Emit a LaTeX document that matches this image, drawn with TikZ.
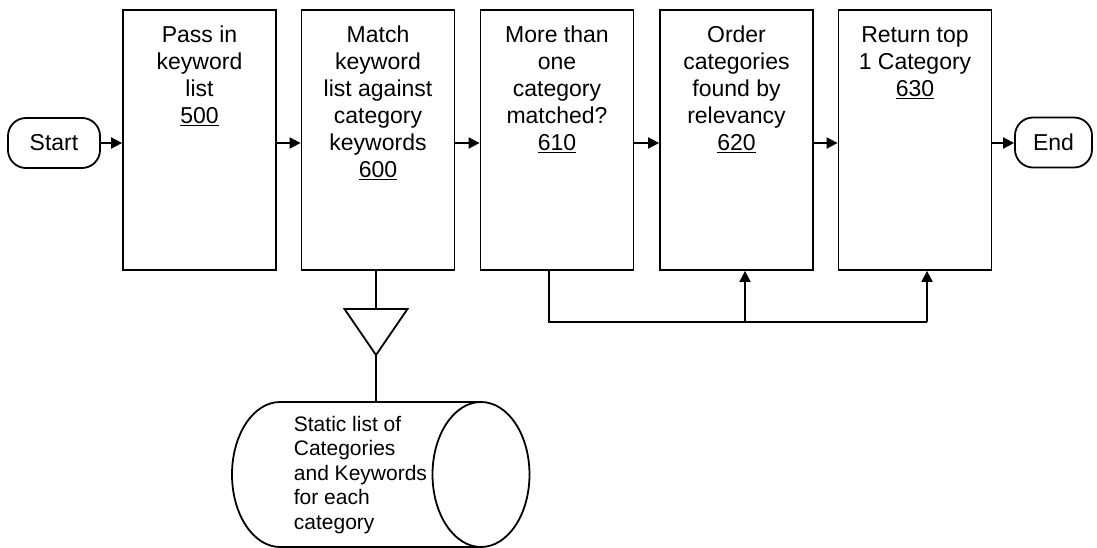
\documentclass[tikz,border=0pt]{standalone}
\usepackage{fontspec}
\setmainfont{Liberation Sans}
\usetikzlibrary{arrows.meta}
\begin{document}
\begin{tikzpicture}[x=1pt,y=-1pt, line width=1.8pt,
 box/.style={draw, minimum width=153pt, minimum height=260pt, inner sep=0pt},
 txt/.style={font=\fontsize{23}{27}\selectfont, align=center, anchor=north, inner sep=0pt},
 term/.style={draw, rounded corners=18pt, font=\fontsize{23}{27}\selectfont, inner sep=0pt},
 arr/.style={-{Triangle[length=11pt,width=11pt]}}]
\useasboundingbox (0,0) rectangle (1097,548);
% terminals
\node[term, minimum width=92pt, minimum height=50pt] (start) at (54,143) {Start};
\node[term, minimum width=77pt, minimum height=50pt] (stop) at (1053.5,142.5) {End};
% boxes
\node[box] (b1) at (199.5,140) {};
\node[box] (b2) at (378,140) {};
\node[box] (b3) at (557,140) {};
\node[box] (b4) at (736.5,140) {};
\node[box] (b5) at (915,140) {};
% box texts
\node[txt] (t1) at (199.5,24.5) {\rule{0pt}{17pt}Pass in\\keyword\\list\\\underline{500}};
\node[txt] (t2) at (378,24.5) {\rule{0pt}{17pt}Match\\keyword\\list against\\category\\keywords\\\underline{600}};
\node[txt] (t3) at (557,24.5) {\rule{0pt}{17pt}More than\\one\\category\\matched?\\\underline{610}};
\node[txt] (t4) at (736.5,24.5) {\rule{0pt}{17pt}Order\\categories\\found by\\relevancy\\\underline{620}};
\node[txt] (t5) at (915,24.5) {\rule{0pt}{17pt}Return top\\1 Category\\\underline{630}};
% main flow
\draw[arr] (start.east) -- (start.east -| b1.west);
\draw[arr] ([yshift=-3pt]b1.east) -- ([yshift=-3pt]b2.west);
\draw[arr] ([yshift=-3pt]b2.east) -- ([yshift=-3pt]b3.west);
\draw[arr] ([yshift=-3pt]b3.east) -- ([yshift=-3pt]b4.west);
\draw[arr] ([yshift=-3pt]b4.east) -- ([yshift=-3pt]b5.east -| b5.west);
\draw[arr] ([yshift=-3pt]b5.east) -- ([yshift=-3pt]b5.east -| stop.west);
% feedback
\coordinate (fb) at (549,322);
\coordinate (f4) at (745,322);
\coordinate (f5) at (927,322);
\draw (b3.south -| fb) -- (fb) -- (f5);
\draw[arr] (f4) -- (f4 |- b4.south);
\draw[arr] (f5) -- (f5 |- b5.south);
% triangle and data store
\coordinate (tt) at (376,309);
\coordinate (ta) at (376,355);
\coordinate (ct) at (376,402);
\draw (344.5,309) -- (407.5,309) -- (ta) -- cycle;
\draw (b2.south -| tt) -- (tt);
\draw (ta) -- (ct);
\draw (481,402) -- (280,402) arc[start angle=270, end angle=90, x radius=48, y radius=72.5] -- (481,547);
\draw (481,474.5) ellipse [x radius=48.5, y radius=72.5];
\node[font=\fontsize{21}{24.5}\selectfont, align=left, anchor=north west, inner sep=0pt] (cyltext) at (293,415) {\rule{0pt}{15.5pt}Static list of\\Categories\\and Keywords\\for each\\category};
\end{tikzpicture}
\end{document}
